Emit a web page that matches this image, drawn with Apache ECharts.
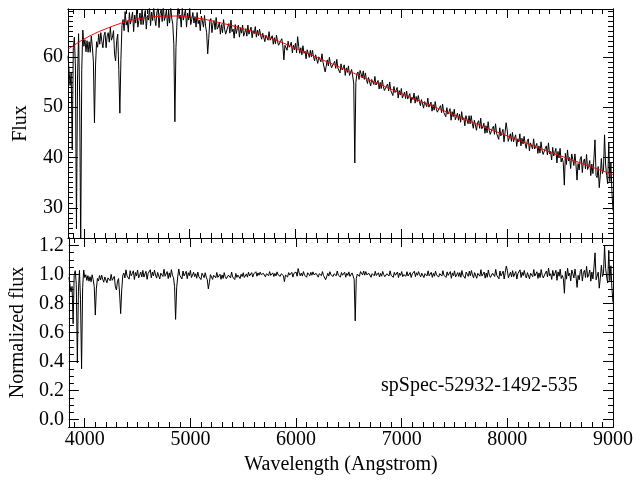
<!DOCTYPE html>
<html>
<head>
<meta charset="utf-8">
<script src="https://cdn.jsdelivr.net/npm/echarts@6/dist/echarts.min.js"></script>
<style>
  html, body { margin: 0; padding: 0; background: #fff; }
  #chart { width: 640px; height: 480px; }
</style>
</head>
<body>
<div id="chart"></div>
<script>
// spectrum sampled every 10 Angstrom from 3850 to 9000
const WAVE_START = 3850
const WAVE_STEP = 10

// observed flux (black, top panel), one row = 100 Angstrom
const FLUX = [
  60.2, 57.1, 54.3, 56.8, 41.5, 61.8, 63.9, 58.2, 25.8, 55.4,
  64.6, 52.0, 22.0, 57.5, 65.3, 62.1, 63.4, 61.0, 63.2, 60.9,
  63.0, 60.9, 64.1, 62.0, 59.0, 46.9, 58.2, 63.0, 61.9, 64.5,
  62.5, 64.8, 63.0, 61.8, 64.2, 64.9, 61.8, 64.1, 64.8, 62.9,
  65.9, 63.3, 63.9, 65.2, 60.5, 59.2, 63.2, 64.5, 57.5, 48.8,
  59.5, 66.2, 67.4, 65.2, 69.0, 66.3, 67.2, 64.9, 68.8, 66.5,
  67.6, 68.9, 65.0, 68.3, 66.7, 69.5, 65.9, 67.2, 68.7, 66.4,
  69.5, 66.4, 67.9, 69.2, 65.5, 68.2, 67.3, 70.0, 66.2, 68.9,
  67.2, 69.9, 67.6, 66.2, 68.9, 69.6, 65.8, 68.6, 69.3, 67.0,
  70.4, 67.2, 67.9, 69.4, 66.1, 68.8, 66.7, 70.3, 67.7, 66.5,
  62.5, 47.1, 61.8, 67.0, 70.6, 67.6, 68.3, 65.9, 69.7, 67.3,
  68.3, 69.4, 65.9, 68.7, 67.3, 69.7, 66.4, 67.5, 68.8, 66.7,
  68.0, 65.9, 68.8, 66.6, 67.3, 65.2, 68.1, 67.1, 65.9, 68.2,
  66.1, 64.8, 60.6, 63.6, 67.1, 67.6, 64.8, 66.7, 67.2, 65.4,
  67.8, 65.5, 65.9, 66.9, 64.5, 66.4, 64.8, 67.4, 65.5, 64.5,
  64.4, 66.0, 66.6, 64.7, 67.3, 65.0, 65.5, 63.7, 66.4, 64.6,
  65.6, 66.3, 63.9, 65.8, 64.7, 66.3, 64.1, 64.8, 65.6, 64.1,
  66.3, 64.5, 65.3, 65.9, 63.8, 65.2, 64.6, 66.0, 63.9, 65.3,
  64.2, 65.5, 64.3, 63.5, 64.7, 65.0, 63.0, 64.3, 64.6, 63.3,
  65.0, 63.3, 63.6, 64.2, 62.5, 63.8, 62.6, 64.3, 63.0, 62.3,
  62.1, 63.2, 63.6, 62.2, 59.4, 62.3, 62.6, 61.3, 63.1, 61.9,
  62.3, 62.9, 60.8, 62.3, 61.4, 62.7, 60.8, 64.0, 62.0, 60.7,
  61.8, 60.4, 62.2, 60.7, 61.1, 59.6, 61.4, 60.7, 59.9, 61.3,
  60.0, 61.3, 60.0, 59.2, 60.4, 60.7, 58.7, 60.0, 60.3, 59.0,
  60.6, 58.9, 59.2, 57.0, 58.1, 59.4, 58.2, 59.9, 58.6, 57.8,
  57.7, 58.7, 59.1, 57.7, 59.5, 57.8, 58.1, 56.8, 58.6, 57.4,
  57.8, 58.4, 56.3, 57.8, 56.9, 58.2, 56.3, 56.8, 57.5, 56.2,
  54.8, 38.9, 54.9, 56.6, 57.0, 55.5, 57.3, 56.6, 55.8, 57.2,
  55.5, 56.8, 55.5, 54.7, 55.9, 56.2, 54.2, 55.5, 55.8, 54.5,
  56.1, 54.4, 54.7, 55.3, 53.6, 54.9, 53.7, 55.4, 54.1, 53.3,
  53.2, 54.2, 54.6, 53.2, 55.0, 53.3, 53.6, 52.3, 54.1, 52.9,
  53.3, 53.9, 51.8, 53.3, 52.4, 53.7, 51.8, 52.4, 53.0, 51.7,
  53.2, 51.6, 52.2, 52.7, 50.8, 52.0, 51.5, 52.8, 50.8, 52.1,
  51.1, 52.3, 51.1, 50.3, 51.5, 51.8, 49.8, 51.1, 51.4, 50.1,
  51.8, 50.0, 50.3, 51.0, 49.2, 50.5, 49.4, 51.1, 49.7, 49.0,
  48.8, 49.9, 50.3, 48.9, 50.6, 49.0, 49.3, 48.1, 49.9, 48.6,
  49.1, 49.7, 47.4, 49.1, 48.1, 49.6, 47.5, 48.1, 48.8, 47.4,
  48.6, 47.0, 49.1, 47.5, 47.9, 46.3, 48.3, 47.5, 46.7, 48.3,
  46.7, 48.3, 46.8, 45.8, 47.4, 47.7, 45.4, 46.9, 47.3, 45.8,
  47.8, 45.7, 46.1, 46.8, 44.8, 46.3, 44.9, 47.1, 45.4, 44.6,
  44.4, 45.8, 46.2, 44.6, 46.7, 44.8, 45.1, 43.6, 45.9, 44.3,
  44.9, 45.6, 43.1, 45.0, 46.9, 45.5, 43.2, 43.9, 44.7, 43.2,
  45.0, 43.1, 43.9, 44.5, 42.2, 43.7, 43.1, 44.7, 42.3, 43.8,
  42.7, 44.2, 42.7, 41.8, 43.3, 43.7, 41.3, 42.9, 43.2, 41.7,
  43.7, 41.7, 42.0, 42.8, 40.8, 42.3, 40.9, 43.1, 41.4, 40.6,
  40.3, 41.8, 42.3, 40.5, 42.9, 40.7, 41.2, 39.5, 42.0, 40.3,
  41.0, 41.8, 38.9, 41.2, 39.9, 41.8, 39.1, 39.9, 39.0, 34.5,
  40.8, 38.6, 41.5, 39.3, 40.0, 37.8, 40.7, 39.6, 38.4, 40.7,
  38.6, 35.5, 38.8, 37.5, 39.7, 40.2, 37.0, 39.2, 39.7, 37.7,
  40.6, 37.6, 38.2, 39.4, 36.4, 38.7, 36.8, 39.9, 43.5, 36.4,
  36.0, 38.2, 34.0, 36.5, 39.8, 36.8, 37.5, 44.5, 38.7, 36.4,
  34.8, 43.0, 35.2, 38.9, 33.0, 29.5
]

// normalized flux (bottom panel), same sampling
const NORM = [
  0.979, 0.927, 0.879, 0.917, 0.66, 0.994, 1.025, 0.931, 0.39, 0.884,
  1.027, 0.825, 0.35, 0.908, 1.03, 0.978, 0.997, 0.958, 0.991, 0.953,
  0.984, 0.949, 0.997, 0.963, 0.915, 0.72, 0.90, 0.972, 0.954, 0.992,
  0.961, 0.995, 0.966, 0.946, 0.982, 0.991, 0.942, 0.976, 0.986, 0.956,
  1.0, 0.959, 0.967, 0.986, 0.914, 0.893, 0.953, 0.971, 0.865, 0.73,
  0.893, 0.993, 1.009, 0.975, 1.031, 0.99, 1.002, 0.967, 1.025, 0.99,
  1.005, 1.024, 0.965, 1.013, 0.989, 1.03, 0.976, 0.994, 1.016, 0.982,
  1.027, 0.981, 1.003, 1.021, 0.966, 1.006, 0.993, 1.032, 0.976, 1.015,
  0.99, 1.029, 0.995, 0.974, 1.013, 1.024, 0.968, 1.008, 1.018, 0.985,
  1.035, 0.987, 0.997, 1.019, 0.971, 1.01, 0.979, 1.032, 0.994, 0.977,
  0.918, 0.69, 0.907, 0.984, 1.037, 0.993, 1.003, 0.968, 1.023, 0.989,
  1.004, 1.021, 0.97, 1.011, 0.991, 1.027, 0.978, 0.995, 1.015, 0.984,
  1.004, 0.973, 1.016, 0.984, 0.995, 0.964, 1.008, 0.994, 0.977, 1.011,
  0.981, 0.962, 0.90, 0.945, 0.998, 1.006, 0.965, 0.994, 1.002, 0.976,
  1.013, 0.979, 0.986, 1.001, 0.966, 0.996, 0.972, 1.012, 0.984, 0.97,
  0.969, 0.994, 1.004, 0.976, 1.016, 0.982, 0.99, 0.964, 1.006, 0.979,
  0.995, 1.007, 0.971, 1.001, 0.985, 1.011, 0.978, 0.99, 1.003, 0.981,
  1.015, 0.989, 1.002, 1.012, 0.981, 1.003, 0.995, 1.018, 0.987, 1.01,
  0.994, 1.015, 0.998, 0.987, 1.007, 1.012, 0.983, 1.004, 1.01, 0.991,
  1.019, 0.993, 0.999, 1.01, 0.985, 1.006, 0.989, 1.017, 0.997, 0.988,
  0.986, 1.004, 1.012, 0.991, 0.95, 0.995, 1.001, 0.982, 1.012, 0.995,
  1.002, 1.014, 0.981, 1.007, 0.994, 1.016, 0.987, 1.04, 1.009, 0.99,
  1.009, 0.988, 1.019, 0.995, 1.003, 0.98, 1.011, 1.001, 0.99, 1.014,
  0.994, 1.017, 0.997, 0.985, 1.007, 1.013, 0.981, 1.005, 1.011, 0.991,
  1.019, 0.992, 0.999, 0.963, 0.983, 1.007, 0.988, 1.018, 0.998, 0.986,
  0.985, 1.004, 1.013, 0.99, 1.023, 0.995, 1.002, 0.981, 1.013, 0.994,
  1.003, 1.015, 0.98, 1.007, 0.993, 1.017, 0.986, 0.996, 1.01, 0.989,
  0.966, 0.68, 0.97, 1.002, 1.011, 0.986, 1.019, 1.009, 0.996, 1.023,
  0.994, 1.019, 0.997, 0.984, 1.007, 1.014, 0.98, 1.005, 1.012, 0.99,
  1.021, 0.992, 0.999, 1.011, 0.982, 1.007, 0.987, 1.02, 0.998, 0.984,
  0.984, 1.004, 1.014, 0.989, 1.024, 0.994, 1.002, 0.979, 1.014, 0.994,
  1.003, 1.016, 0.978, 1.008, 0.993, 1.019, 0.984, 0.998, 1.01, 0.987,
  1.018, 0.989, 1.002, 1.013, 0.978, 1.003, 0.995, 1.022, 0.984, 1.011,
  0.994, 1.019, 0.997, 0.983, 1.008, 1.016, 0.978, 1.005, 1.013, 0.989,
  1.024, 0.99, 0.998, 1.014, 0.979, 1.007, 0.987, 1.022, 0.996, 0.984,
  0.981, 1.005, 1.015, 0.988, 1.025, 0.994, 1.002, 0.979, 1.017, 0.993,
  1.005, 1.019, 0.973, 1.01, 0.991, 1.024, 0.982, 0.996, 1.012, 0.985,
  1.012, 0.98, 1.026, 0.994, 1.004, 0.973, 1.016, 1.001, 0.986, 1.022,
  0.99, 1.026, 0.996, 0.976, 1.012, 1.02, 0.973, 1.007, 1.017, 0.987,
  1.032, 0.988, 0.999, 1.016, 0.974, 1.009, 0.98, 1.03, 0.994, 0.979,
  0.976, 1.008, 1.019, 0.985, 1.034, 0.993, 1.002, 0.97, 1.023, 0.989,
  1.004, 1.022, 0.968, 1.012, 1.057, 1.027, 0.977, 0.995, 1.015, 0.982,
  1.025, 0.984, 1.004, 1.019, 0.968, 1.005, 0.993, 1.031, 0.978, 1.014,
  0.991, 1.027, 0.994, 0.975, 1.012, 1.023, 0.969, 1.008, 1.017, 0.984,
  1.033, 0.988, 0.997, 1.018, 0.972, 1.01, 0.978, 1.033, 0.994, 0.976,
  0.971, 1.009, 1.023, 0.982, 1.042, 0.99, 1.004, 0.965, 1.027, 0.988,
  1.007, 1.028, 0.959, 1.017, 0.987, 1.036, 0.971, 0.993, 0.972, 0.87,
  1.021, 0.967, 1.042, 0.989, 1.008, 0.955, 1.03, 1.004, 0.975, 1.036,
  0.984, 0.91, 0.993, 0.962, 1.02, 1.035, 0.954, 1.013, 1.028, 0.978,
  1.055, 0.979, 0.997, 1.03, 0.953, 1.016, 0.968, 1.051, 1.148, 0.963,
  0.954, 1.015, 0.905, 0.973, 1.063, 0.985, 1.006, 1.196, 1.042, 0.982,
  0.941, 1.165, 0.956, 1.059, 0.90, 0.806
]

// fitted continuum (red)
const CONT_WAVE = [
  3850, 3900, 4000, 4100, 4200, 4300, 4400, 4500, 4600, 4700, 4800, 4900, 5000,
  5100, 5200, 5300, 5400, 5500, 5600, 5700, 5800, 5900, 6000,
  6100, 6200, 6300, 6400, 6500, 6600, 6700, 6800, 6900, 7000,
  7100, 7200, 7300, 7400, 7500, 7600, 7700, 7800, 7900, 8000,
  8100, 8200, 8300, 8400, 8500, 8600, 8700, 8800, 8900, 9000
]
const CONT_FLUX = [
  61.5, 62.2, 63.5, 64.6, 65.5, 66.3, 67.0, 67.5, 67.8, 68.0, 68.1, 68.1, 67.9,
  67.6, 67.2, 66.7, 66.2, 65.6, 65.0, 64.2, 63.4, 62.6, 61.7,
  60.8, 59.9, 59.0, 58.1, 57.2, 56.3, 55.4, 54.5, 53.6, 52.7,
  51.85, 51.0, 50.15, 49.3, 48.45, 47.6, 46.75, 45.9, 45.1, 44.3,
  43.5, 42.7, 41.9, 41.1, 40.35, 39.6, 38.85, 38.1, 37.35, 36.6
]

// tick labels
const X_LABELS = [4000, 5000, 6000, 7000, 8000, 9000]
const FLUX_LABELS = [30, 40, 50, 60]
const NORM_LABELS = [0.0, 0.2, 0.4, 0.6, 0.8, 1.0, 1.2]

const X_MIN = 3850, X_MAX = 9000
const FLUX_MIN = 24, FLUX_MAX = 69.5
const NORM_MIN = -0.05, NORM_MAX = 1.25

const FONT = '"Liberation Serif", "DejaVu Serif", serif'

const range = (a, b, s) => {
  const out = []
  for (let v = a; v <= b + 1e-9; v += s) out.push(Math.round(v * 1000) / 1000)
  return out
}
const X_MINOR = range(3900, 9000, 100)
const FLUX_MINOR = range(25, 69, 1)
const NORM_MINOR = range(-0.05, 1.25, 0.05)

const wave = FLUX.map((_, i) => WAVE_START + i * WAVE_STEP)

const mkAxis = (grid, pos, min, max, ticks, len, label) => ({
  type: 'value',
  gridIndex: grid,
  position: pos,
  min: min,
  max: max,
  axisLine: { show: true, onZero: false, lineStyle: { color: '#000', width: 1 } },
  axisTick: { show: true, inside: true, length: len, customValues: ticks, lineStyle: { color: '#000', width: 1 } },
  axisLabel: {
    show: !!label,
    customValues: ticks,
    margin: 5,
    color: '#000',
    fontFamily: FONT,
    fontSize: 20,
    formatter: label || undefined
  },
  splitLine: { show: false }
})

const fmtNorm = v => v.toFixed(1)
const fmtInt = v => String(v)

const xAxes = []
const yAxes = []
// grid 0: flux panel, grid 1: normalized panel
;[0, 1].forEach(g => {
  const xb = mkAxis(g, 'bottom', X_MIN, X_MAX, X_LABELS, 9, g === 1 ? fmtInt : null)
  if (g === 1) {
    xb.name = 'Wavelength (Angstrom)'
    xb.nameLocation = 'middle'
    xb.nameGap = 28
    xb.nameTextStyle = { color: '#000', fontFamily: FONT, fontSize: 20 }
    xb.axisLabel.margin = 3
  }
  xAxes.push(xb)
  xAxes.push(mkAxis(g, 'bottom', X_MIN, X_MAX, X_MINOR, 5, null))
  xAxes.push(mkAxis(g, 'top', X_MIN, X_MAX, X_LABELS, 9, null))
  xAxes.push(mkAxis(g, 'top', X_MIN, X_MAX, X_MINOR, 5, null))

  const ymin = g === 0 ? FLUX_MIN : NORM_MIN
  const ymax = g === 0 ? FLUX_MAX : NORM_MAX
  const major = g === 0 ? FLUX_LABELS : NORM_LABELS
  const minor = g === 0 ? FLUX_MINOR : NORM_MINOR
  const yl = mkAxis(g, 'left', ymin, ymax, major, 10, g === 0 ? fmtInt : fmtNorm)
  yl.name = g === 0 ? 'Flux' : 'Normalized flux'
  yl.nameLocation = 'middle'
  yl.nameRotate = 90
  yl.nameGap = 37
  yl.nameTextStyle = { color: '#000', fontFamily: FONT, fontSize: 20 }
  yAxes.push(yl)
  yAxes.push(mkAxis(g, 'left', ymin, ymax, minor, 5, null))
  yAxes.push(mkAxis(g, 'right', ymin, ymax, major, 10, null))
  yAxes.push(mkAxis(g, 'right', ymin, ymax, minor, 5, null))
})

const chart = echarts.init(document.getElementById('chart'), null, { renderer: 'canvas' })

chart.setOption({
  animation: false,
  backgroundColor: '#fff',
  grid: [
    { left: 68, right: 27, top: 9, height: 229 },
    { left: 68, right: 27, top: 238, height: 189 }
  ],
  xAxis: xAxes,
  yAxis: yAxes,
  series: [
    {
      name: 'Flux',
      type: 'line',
      xAxisIndex: 0,
      yAxisIndex: 0,
      data: wave.map((w, i) => [w, FLUX[i]]),
      symbol: 'none',
      lineStyle: { color: '#000', width: 1 },
      z: 2
    },
    {
      name: 'Continuum',
      type: 'line',
      xAxisIndex: 0,
      yAxisIndex: 0,
      data: CONT_WAVE.map((w, i) => [w, CONT_FLUX[i]]),
      symbol: 'none',
      smooth: true,
      lineStyle: { color: '#ff0000', width: 1 },
      z: 3
    },
    {
      name: 'Normalized flux',
      type: 'line',
      xAxisIndex: 4,
      yAxisIndex: 4,
      data: wave.map((w, i) => [w, NORM[i]]),
      symbol: 'none',
      lineStyle: { color: '#000', width: 1 },
      z: 2
    }
  ],
  graphic: [
    {
      type: 'text',
      left: 381,
      top: 376,
      style: { text: 'spSpec-52932-1492-535', fill: '#000', fontFamily: FONT, fontSize: 20 }
    }
  ]
})
</script>
</body>
</html>
